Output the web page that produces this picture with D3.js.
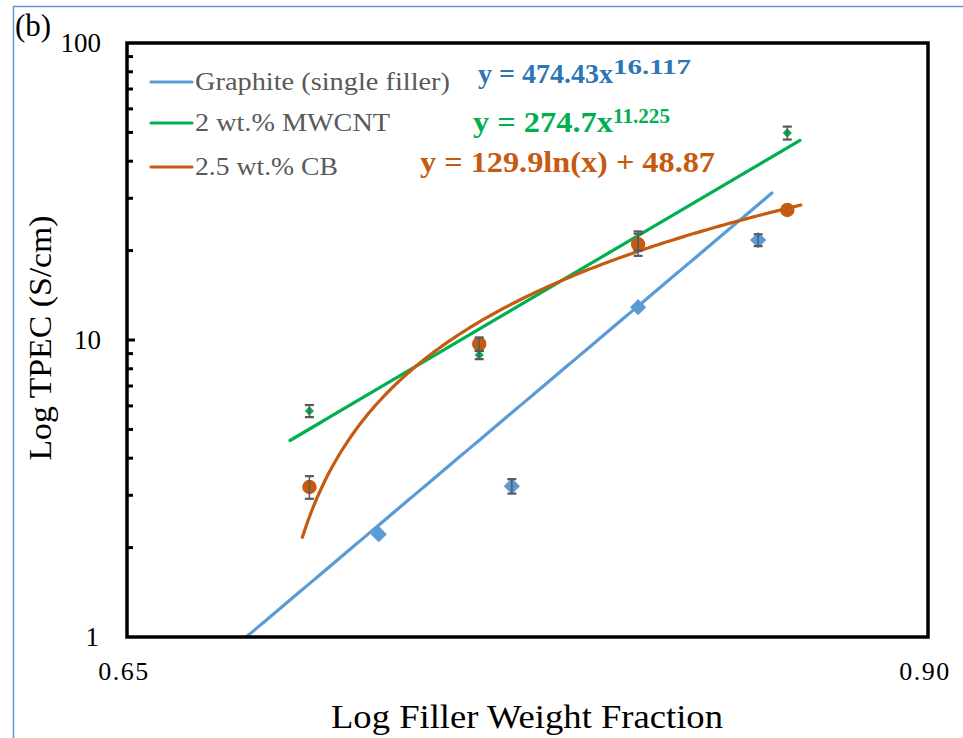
<!DOCTYPE html>
<html>
<head>
<meta charset="utf-8">
<script src="https://cdn.jsdelivr.net/npm/d3@7"></script>
<style>
  html, body { margin: 0; padding: 0; background: #fff; }
  svg { display: block; }
  text { font-family: "Liberation Serif", "Times New Roman", serif; }
</style>
</head>
<body>
<svg id="chart" width="963" height="738" font-family="Liberation Serif, Times New Roman, serif"></svg>
<script>
// ---------- data ----------
const seriesNames = ["Graphite (single filler)", "2 wt.% MWCNT", "2.5 wt.% CB"];

const graphiteX   = [0.72, 0.76, 0.80, 0.84];
const graphiteY   = [2.22, 3.22, 12.9, 21.7];
const graphiteErr = [0, 0.18, 0, 1.0];

const mwcntX   = [0.70, 0.75, 0.80, 0.85];
const mwcntY   = [5.77, 8.9, 21.6, 49.8];
const mwcntErr = [0.27, 0.28, 1.6, 2.5];

const cbX   = [0.70, 0.75, 0.80, 0.85];
const cbY   = [3.2, 9.7, 21.0, 27.4];
const cbErr = [0.28, 0.5, 1.8, 0];

// fitted trend-line equations shown on the chart
const graphiteFit = { a: 474.43, b: 16.117 };      // y = a x^b
const mwcntFit    = { a: 274.7,  b: 11.225 };      // y = a x^b
const cbFit       = { a: 129.9,  b: 48.87 };       // y = a ln(x) + b
const trendXRange = [[0.665, 0.8447], [0.6945, 0.8544], [0.698, 0.8547]];

const yTickValues = [1, 10, 100];
const yTickLabels = ["1", "10", "100"];
const xTickValues = [0.65, 0.90];
const xTickLabels = ["0.65", "0.90"];

// ---------- styles ----------
const colors = ["#5b9bd5", "#00b050", "#c55a11"];
const eqColors = ["#2e75b6", "#00b050", "#c55a11"];
const errColor = "#595959";
const serif = "Liberation Serif, Times New Roman, serif";

const svg = d3.select("#chart");
const pLeft = 127, pRight = 928, pTop = 43, pBottom = 637;

const x = d3.scaleLog().domain([0.65, 0.90]).range([pLeft, pRight]);
const y = d3.scaleLog().domain([1, 100]).range([pBottom, pTop]);

// outer border
svg.append("rect").attr("x", 13.5).attr("y", 6.5).attr("width", 1000).attr("height", 1000)
  .attr("fill", "none").attr("stroke", "#5b9bd5").attr("stroke-width", 1.5);

// (b) label
svg.append("text").attr("x", 15).attr("y", 36).attr("font-family", serif).attr("font-size", 31).attr("fill", "#000").text("(b)");

// clip
svg.append("defs").append("clipPath").attr("id", "plotclip")
  .append("rect").attr("x", pLeft).attr("y", pTop).attr("width", pRight - pLeft).attr("height", pBottom - pTop);

// minor / major ticks on y axis (inward)
const minorVals = [];
[1, 10].forEach(dec => { for (let k = 2; k <= 9; k++) minorVals.push(dec * k); });
svg.append("g").selectAll("line").data(minorVals).join("line")
  .attr("x1", pLeft).attr("x2", pLeft + 6)
  .attr("y1", d => y(d)).attr("y2", d => y(d))
  .attr("stroke", "#000").attr("stroke-width", 3);
svg.append("g").selectAll("line").data([10]).join("line")
  .attr("x1", pLeft).attr("x2", pLeft + 8)
  .attr("y1", d => y(d)).attr("y2", d => y(d))
  .attr("stroke", "#000").attr("stroke-width", 3);

// y tick labels
svg.append("g").selectAll("text").data(yTickValues).join("text")
  .attr("x", (d, i) => i === 0 ? 99 : 101)
  .attr("y", d => y(d) + 9)
  .attr("text-anchor", "end").attr("font-family", serif).attr("font-size", 27).attr("fill", "#000")
  .text((d, i) => yTickLabels[i]);

// x tick labels
svg.append("g").selectAll("text").data(xTickValues).join("text")
  .attr("x", d => x(d) - 3)
  .attr("y", 680)
  .attr("text-anchor", "middle").attr("font-family", serif).attr("font-size", 26).attr("letter-spacing", 1.5).attr("fill", "#000")
  .text((d, i) => xTickLabels[i]);

// axis titles
svg.append("text").attr("transform", "translate(51,338) rotate(-90)")
  .attr("text-anchor", "middle").attr("font-family", serif).attr("font-size", 32).attr("fill", "#000")
  .attr("textLength", 245).attr("lengthAdjust", "spacingAndGlyphs")
  .text("Log TPEC (S/cm)");
svg.append("text").attr("x", 527).attr("y", 728)
  .attr("text-anchor", "middle").attr("font-family", serif).attr("font-size", 33).attr("fill", "#000")
  .attr("textLength", 392).attr("lengthAdjust", "spacingAndGlyphs")
  .text("Log Filler Weight Fraction");

// trend lines
const plot = svg.append("g").attr("clip-path", "url(#plotclip)");
const fitFns = [
  v => graphiteFit.a * Math.pow(v, graphiteFit.b),
  v => mwcntFit.a * Math.pow(v, mwcntFit.b),
  v => cbFit.a * Math.log(v) + cbFit.b
];
const line = d3.line().x(d => x(d[0])).y(d => y(Math.max(d[1], 0.5)));
fitFns.forEach((f, i) => {
  const [x0, x1] = trendXRange[i];
  const pts = d3.range(0, 201).map(k => {
    const v = Math.exp(Math.log(x0) + (Math.log(x1) - Math.log(x0)) * k / 200);
    return [v, f(v)];
  });
  plot.append("path").datum(pts).attr("d", line)
    .attr("fill", "none").attr("stroke", colors[i]).attr("stroke-width", 3.2)
    .attr("stroke-linecap", "round");
});

// markers and error bars
const seriesData = [
  { xs: graphiteX, ys: graphiteY, es: graphiteErr, shape: "diamond", size: 132 },
  { xs: mwcntX, ys: mwcntY, es: mwcntErr, shape: "diamond", size: 42 },
  { xs: cbX, ys: cbY, es: cbErr, shape: "circle", size: 0 }
];
seriesData.forEach((s, i) => {
  const g = svg.append("g");
  const pts = s.xs.map((v, j) => ({ x: v, y: s.ys[j], e: s.es[j] }));
  if (s.shape === "circle") {
    g.selectAll("circle").data(pts).join("circle")
      .attr("cx", d => x(d.x)).attr("cy", d => y(d.y)).attr("r", 7.2)
      .attr("fill", colors[i]);
  } else {
    g.selectAll("path").data(pts).join("path")
      .attr("d", d3.symbol().type(d3.symbolSquare).size(s.size))
      .attr("transform", d => `translate(${x(d.x)},${y(d.y)}) rotate(45)`)
      .attr("fill", colors[i]);
  }
});
seriesData.forEach((s, i) => {
  const g = svg.append("g");
  const pts = s.xs.map((v, j) => ({ x: v, y: s.ys[j], e: s.es[j] })).filter(d => d.e > 0);
  g.selectAll("line.v").data(pts).join("line").attr("class", "v")
    .attr("x1", d => x(d.x)).attr("x2", d => x(d.x))
    .attr("y1", d => y(d.y + d.e)).attr("y2", d => y(d.y - d.e))
    .attr("stroke", errColor).attr("stroke-width", 1.5);
  [1, -1].forEach(sg => {
    g.selectAll("line.c" + (sg > 0 ? "p" : "m")).data(pts).join("line").attr("class", "c" + (sg > 0 ? "p" : "m"))
      .attr("x1", d => x(d.x) - 4.5).attr("x2", d => x(d.x) + 4.5)
      .attr("y1", d => y(d.y + sg * d.e))
      .attr("y2", d => y(d.y + sg * d.e))
      .attr("stroke", errColor).attr("stroke-width", 2.2);
  });
});

// frame
svg.append("rect").attr("x", pLeft).attr("y", pTop).attr("width", pRight - pLeft).attr("height", pBottom - pTop)
  .attr("fill", "none").attr("stroke", "#000").attr("stroke-width", 3.5);

// legend
const legendY = [82, 123, 167];
const legendLen = [255, 195, 143];
const lg = svg.append("g");
seriesNames.forEach((n, i) => {
  lg.append("line").attr("x1", 151).attr("x2", 192).attr("y1", legendY[i]).attr("y2", legendY[i])
    .attr("stroke", colors[i]).attr("stroke-width", 3.2).attr("stroke-linecap", "round");
  lg.append("text").attr("x", 195).attr("y", legendY[i] + 8).attr("font-family", serif).attr("font-size", 26).attr("fill", "#595959")
    .attr("textLength", legendLen[i]).attr("lengthAdjust", "spacingAndGlyphs")
    .text(n);
});

// equations
function powerEq(xPos, yBase, a, b, color, mainLen, supLen, fs) {
  svg.append("text").attr("x", xPos).attr("y", yBase).attr("font-weight", "bold").attr("fill", color)
    .attr("font-family", serif).attr("font-size", fs).attr("textLength", mainLen).attr("lengthAdjust", "spacingAndGlyphs")
    .text(`y = ${a}x`);
  svg.append("text").attr("x", xPos + mainLen).attr("y", yBase - 9).attr("font-weight", "bold").attr("fill", color)
    .attr("font-family", serif).attr("font-size", 20).attr("textLength", supLen).attr("lengthAdjust", "spacingAndGlyphs")
    .text(b.toFixed(3));
}
powerEq(478, 83, graphiteFit.a.toFixed(2), graphiteFit.b, eqColors[0], 135, 78, 28);
powerEq(473, 132, mwcntFit.a.toFixed(1), mwcntFit.b, eqColors[1], 140, 57, 29);
svg.append("text").attr("x", 420).attr("y", 172).attr("font-weight", "bold").attr("fill", eqColors[2])
  .attr("font-family", serif).attr("font-size", 30).attr("textLength", 295).attr("lengthAdjust", "spacingAndGlyphs")
  .text(`y = ${cbFit.a.toFixed(1)}ln(x) + ${cbFit.b.toFixed(2)}`);
</script>
</body>
</html>
